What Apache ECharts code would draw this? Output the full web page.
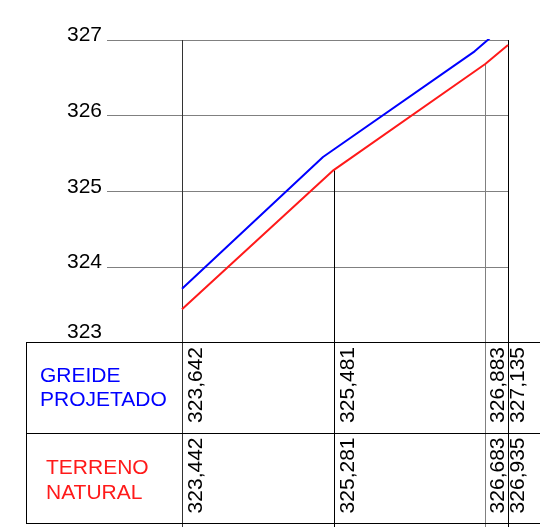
<!DOCTYPE html>
<html>
<head>
<meta charset="utf-8">
<script src="https://cdn.jsdelivr.net/npm/echarts@6/dist/echarts.min.js"></script>
<style>
html,body{margin:0;padding:0;background:#fff;}
#chart{width:540px;height:527px;}
</style>
</head>
<body>
<div id="chart"></div>
<script>
// Stations (m) of the profile ordinates
var stations = [0, 20, 40, 43];
// Terreno natural elevations
var terreno = [323.442, 325.281, 326.683, 326.935];
// Greide projetado line as drawn in the picture
var greideX = [0, 18.6, 38.6, 41.7];
var greideY = [323.714, 325.454, 326.85, 327.12];
// Table text
var greideLabels = ['323,642', '325,481', '326,883', '327,135'];
var terrenoLabels = ['323,442', '325,281', '326,683', '326,935'];
var rowTitles = [['GREIDE', 'PROJETADO'], ['TERRENO', 'NATURAL']];
// Y axis
var yMin = 323, yMax = 327, yStep = 1;

var FONT = 'Liberation Sans, Arial, sans-serif';
var FS = 21;
var ordColors = ['#333333', '#000000', '#808080', '#000000'];
var textDx = [14, 15, 13, 10];

var chart = echarts.init(document.getElementById('chart'), null, {renderer: 'canvas'});

var greideData = greideX.map(function (x, i) { return [x, greideY[i]]; });
var terrenoData = stations.map(function (x, i) { return [x, terreno[i], i]; });

var option = {
  backgroundColor: '#ffffff',
  animation: false,
  grid: {left: 182, right: 32, top: 40, bottom: 184.3, containLabel: false},
  xAxis: {type: 'value', min: 0, max: 43, show: false},
  yAxis: {
    type: 'value', min: yMin, max: yMax, interval: yStep,
    axisLine: {show: false},
    axisTick: {show: true, inside: false, length: 75, lineStyle: {color: '#808080', width: 1}},
    splitLine: {show: true, lineStyle: {color: '#808080', width: 1}},
    axisLabel: {
      margin: 80,
      formatter: function (v) { return v === yMin ? '{b|' + v + '}' : '{a|' + v + '}'; },
      rich: {
        a: {fontFamily: FONT, fontSize: FS, color: '#000', padding: [0, 0, 9, 0]},
        b: {fontFamily: FONT, fontSize: FS, color: '#000', padding: [0, 0, 20, 0]}
      }
    }
  },
  series: [
    {
      type: 'custom',
      clip: false,
      z: 1,
      data: terrenoData,
      renderItem: function (params, api) {
        var i = params.dataIndex;
        var x = api.value(0);
        var p = api.coord([x, api.value(1)]);
        var top = (i === 0 || i === stations.length - 1) ? api.coord([x, yMax])[1] : p[1];
        var H = api.getHeight();
        var lx = Math.round(p[0]) + 0.5;
        return {
          type: 'group',
          children: [
            {type: 'line', shape: {x1: lx, y1: top, x2: lx, y2: H},
             style: {stroke: ordColors[i], lineWidth: 1}},
            {type: 'text', x: p[0] + textDx[i], y: 347, rotation: Math.PI / 2,
             style: {text: greideLabels[i], fontFamily: FONT, fontSize: FS, fill: '#000',
                     align: 'right', verticalAlign: 'middle'}},
            {type: 'text', x: p[0] + textDx[i], y: 437.5, rotation: Math.PI / 2,
             style: {text: terrenoLabels[i], fontFamily: FONT, fontSize: FS, fill: '#000',
                     align: 'right', verticalAlign: 'middle'}}
          ]
        };
      }
    },
    {
      name: 'Terreno natural', type: 'line', data: terrenoData, symbol: 'none',
      lineStyle: {color: '#ff1a1a', width: 2}, z: 3, clip: true
    },
    {
      name: 'Greide projetado', type: 'line', data: greideData, symbol: 'none',
      lineStyle: {color: '#0000ff', width: 2}, z: 3, clip: true
    }
  ],
  graphic: [
    {type: 'line', z: 100, shape: {x1: 26, y1: 342.5, x2: 540, y2: 342.5}, style: {stroke: '#000', lineWidth: 1}},
    {type: 'line', z: 100, shape: {x1: 26, y1: 433.5, x2: 540, y2: 433.5}, style: {stroke: '#000', lineWidth: 1}},
    {type: 'line', z: 100, shape: {x1: 26, y1: 523.5, x2: 540, y2: 523.5}, style: {stroke: '#000', lineWidth: 1}},
    {type: 'line', z: 100, shape: {x1: 26.5, y1: 342.5, x2: 26.5, y2: 523.5}, style: {stroke: '#000', lineWidth: 1}},
    {type: 'text', z: 100, x: 40, y: 376, style: {text: rowTitles[0][0], fontFamily: FONT, fontSize: FS, fill: '#0000ff', verticalAlign: 'middle'}},
    {type: 'text', z: 100, x: 40, y: 400, style: {text: rowTitles[0][1], fontFamily: FONT, fontSize: FS, fill: '#0000ff', verticalAlign: 'middle'}},
    {type: 'text', z: 100, x: 46, y: 468, style: {text: rowTitles[1][0], fontFamily: FONT, fontSize: FS, fill: '#ff1a1a', verticalAlign: 'middle'}},
    {type: 'text', z: 100, x: 46, y: 493, style: {text: rowTitles[1][1], fontFamily: FONT, fontSize: FS, fill: '#ff1a1a', verticalAlign: 'middle'}}
  ]
};
chart.setOption(option);
</script>
</body>
</html>
